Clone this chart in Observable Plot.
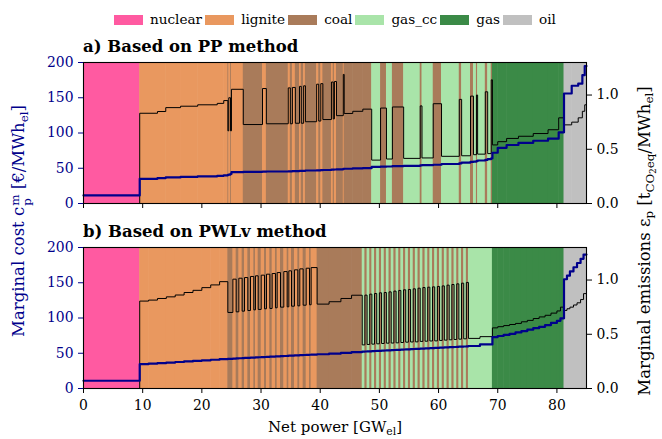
<!DOCTYPE html>
<html>
<head>
<meta charset="utf-8">
<script src="https://cdn.jsdelivr.net/npm/d3@7"></script>
<script src="https://cdn.jsdelivr.net/npm/@observablehq/plot@0.6"></script>
<style>
  body { margin: 0; background: white; }
  #wrap { position: relative; width: 662px; height: 439px; background: white; font-family: "DejaVu Serif", serif; color: #000; overflow: hidden; }
  .t { position: absolute; line-height: 1; white-space: nowrap; }
  .sub { font-size: 72%; vertical-align: -0.3em; line-height: 0; }
  .ss { display: inline-flex; flex-direction: column; font-size: 72%; line-height: 1.0; vertical-align: 5px; margin-left: 1px; }
  .panel { position: absolute; left: 0; }
  #legend { position: absolute; left: 114px; top: 13px; display: flex; align-items: center; font-size: 13.6px; line-height: 1; }
  #legend .sw { width: 29px; height: 10px; display: inline-block; }
  #legend .lb { margin-left: 7px; margin-right: 3px; }
</style>
</head>
<body>
<div id="wrap"></div>
<script>
// ---------------- data ----------------
const fuels = ["nuclear", "lignite", "coal", "gas_cc", "gas", "oil"];
const xTicks = [0, 10, 20, 30, 40, 50, 60, 70, 80];
const costTicks = [0, 50, 100, 150, 200];
const emisTicks = [0, 0.5, 1.0];

// merit order, PP method: [start GW, end GW, fuel, marginal cost €/MWh, marginal emissions t/MWh]
const ppUnits = [
  [0, 9.5, "nuclear", 11.5, 0],
  [9.5, 12.5, "lignite", 35, 0.832],
  [12.5, 13.9, "lignite", 36, 0.848],
  [13.9, 16.4, "lignite", 37, 0.884],
  [16.4, 19.3, "lignite", 37.8, 0.897],
  [19.3, 22.6, "lignite", 38.5, 0.910],
  [22.6, 23.7, "lignite", 39.3, 0.923],
  [23.7, 24.4, "lignite", 40, 0.949],
  [24.4, 24.55, "coal", 40.5, 0.67],
  [24.55, 24.85, "lignite", 41, 0.975],
  [24.85, 25.0, "coal", 42, 0.67],
  [25.0, 27.0, "lignite", 44.5, 1.053],
  [27.0, 30.25, "coal", 45, 0.728],
  [30.25, 30.9, "lignite", 45.2, 1.06],
  [30.9, 34.6, "coal", 45.4, 0.735],
  [34.6, 34.95, "lignite", 45.6, 1.066],
  [34.95, 35.3, "coal", 45.7, 0.735],
  [35.3, 35.8, "lignite", 45.9, 1.07],
  [35.8, 36.5, "coal", 46, 0.74],
  [36.5, 36.8, "lignite", 46.2, 1.08],
  [36.8, 37.2, "coal", 46.3, 0.74],
  [37.2, 37.5, "lignite", 46.4, 1.085],
  [37.5, 39.4, "coal", 46.8, 0.754],
  [39.4, 39.75, "lignite", 47, 1.10],
  [39.75, 40.1, "coal", 47.1, 0.76],
  [40.1, 40.45, "lignite", 47.2, 1.105],
  [40.45, 41.9, "coal", 47.5, 0.774],
  [41.9, 42.2, "lignite", 48, 1.12],
  [42.2, 42.4, "coal", 48.1, 0.78],
  [42.4, 42.75, "lignite", 48.2, 1.125],
  [42.75, 43.9, "coal", 48.5, 0.81],
  [43.9, 44.05, "lignite", 49, 1.19],
  [44.05, 45.5, "coal", 49.3, 0.83],
  [45.5, 47.2, "coal", 49.8, 0.85],
  [47.2, 48.7, "coal", 50.3, 0.87],
  [48.7, 50.2, "gas_cc", 52, 0.40],
  [50.2, 51.2, "coal", 52.3, 0.88],
  [51.2, 52.2, "gas_cc", 52.5, 0.41],
  [52.2, 54.1, "coal", 53, 0.89],
  [54.1, 56.9, "gas_cc", 53.5, 0.416],
  [56.9, 57.2, "coal", 54, 0.90],
  [57.2, 59.1, "gas_cc", 54.5, 0.42],
  [59.1, 60.5, "coal", 55, 0.92],
  [60.5, 63.5, "gas_cc", 56, 0.435],
  [63.5, 63.9, "coal", 57, 0.96],
  [63.9, 65.4, "gas_cc", 58, 0.44],
  [65.4, 65.9, "coal", 59, 0.99],
  [65.9, 66.4, "gas_cc", 59.5, 0.45],
  [66.4, 66.6, "coal", 60, 1.0],
  [66.6, 67.9, "gas_cc", 61, 0.455],
  [67.9, 68.3, "coal", 62, 1.03],
  [68.3, 68.9, "gas_cc", 63, 0.46],
  [68.9, 69.1, "coal", 64, 1.14],
  [69.1, 70, "gas", 72, 0.54],
  [70, 71.5, "gas", 79, 0.57],
  [71.5, 73.5, "gas", 83, 0.60],
  [73.5, 76, "gas", 86, 0.62],
  [76, 78.5, "gas", 89, 0.645],
  [78.5, 80.3, "gas", 92, 0.68],
  [80.3, 81.2, "gas", 101, 0.79],
  [81.2, 82.5, "oil", 156, 0.725],
  [82.5, 83.6, "oil", 167, 0.75],
  [83.6, 84.3, "oil", 170, 0.79],
  [84.3, 84.7, "oil", 182, 0.85],
  [84.7, 85, "oil", 195, 0.91]
];

// merit order, PWLv method
const pwlUnits = [
  [0, 9.5, "nuclear", 11, 0],
  [9.5, 11, "lignite", 34.5, 0.806],
  [11, 12.5, "lignite", 35.3, 0.815],
  [12.5, 14, "lignite", 36, 0.83],
  [14, 15.5, "lignite", 36.8, 0.845],
  [15.5, 17, "lignite", 37.6, 0.862],
  [17, 18.5, "lignite", 38.4, 0.885],
  [18.5, 20, "lignite", 39.2, 0.905],
  [20, 21.5, "lignite", 40, 0.93],
  [21.5, 23, "lignite", 40.8, 0.955],
  [23, 24.39, "lignite", 41.6, 0.985],
  [24.39, 25.24, "coal", 42.0, 0.701],
  [25.24, 25.80, "lignite", 42.3, 1.008],
  [25.80, 26.25, "coal", 42.6, 0.707],
  [26.25, 26.81, "lignite", 42.9, 1.017],
  [26.81, 27.21, "coal", 43.1, 0.713],
  [27.21, 27.77, "lignite", 43.3, 1.023],
  [27.77, 28.22, "coal", 43.5, 0.719],
  [28.22, 28.78, "lignite", 43.7, 1.033],
  [28.78, 29.06, "coal", 43.9, 0.725],
  [29.06, 29.52, "lignite", 44.1, 1.039],
  [29.52, 30.03, "coal", 44.3, 0.729],
  [30.03, 30.59, "lignite", 44.5, 1.045],
  [30.59, 30.92, "coal", 44.7, 0.735],
  [30.92, 31.49, "lignite", 44.9, 1.054],
  [31.49, 31.88, "coal", 45.1, 0.738],
  [31.88, 32.44, "lignite", 45.3, 1.060],
  [32.44, 32.73, "coal", 45.5, 0.744],
  [32.73, 33.29, "lignite", 45.7, 1.069],
  [33.29, 33.85, "coal", 45.9, 0.750],
  [33.85, 34.42, "lignite", 46.1, 1.078],
  [34.42, 34.70, "coal", 46.3, 0.753],
  [34.70, 35.15, "lignite", 46.5, 1.085],
  [35.15, 35.65, "coal", 46.7, 0.759],
  [35.65, 36.22, "lignite", 46.9, 1.094],
  [36.22, 36.55, "coal", 47.1, 0.762],
  [36.55, 37.12, "lignite", 47.3, 1.103],
  [37.12, 37.63, "coal", 47.5, 0.768],
  [37.63, 38.19, "lignite", 47.7, 1.109],
  [38.19, 38.47, "coal", 47.9, 0.772],
  [38.47, 39.48, "lignite", 48.1, 1.115],
  [39.48, 41.5, "coal", 48.6, 0.778],
  [41.5, 43.5, "coal", 49.5, 0.80],
  [43.5, 45.3, "coal", 50.6, 0.83],
  [45.3, 47.1, "coal", 51.6, 0.86],
  [47.10, 47.55, "gas_cc", 52.3, 0.402],
  [47.55, 47.92, "coal", 52.5, 0.861],
  [47.92, 48.37, "gas_cc", 52.6, 0.406],
  [48.37, 48.73, "coal", 52.8, 0.870],
  [48.73, 49.18, "gas_cc", 53.0, 0.409],
  [49.18, 49.55, "coal", 53.2, 0.876],
  [49.55, 50.00, "gas_cc", 53.3, 0.412],
  [50.00, 50.37, "coal", 53.5, 0.882],
  [50.37, 50.82, "gas_cc", 53.7, 0.415],
  [50.82, 51.18, "coal", 53.9, 0.885],
  [51.18, 51.63, "gas_cc", 54.0, 0.418],
  [51.63, 52.00, "coal", 54.2, 0.891],
  [52.00, 52.45, "gas_cc", 54.4, 0.419],
  [52.45, 52.82, "coal", 54.6, 0.898],
  [52.82, 53.27, "gas_cc", 54.7, 0.421],
  [53.27, 53.63, "coal", 54.9, 0.904],
  [53.63, 54.08, "gas_cc", 55.1, 0.424],
  [54.08, 54.45, "coal", 55.3, 0.910],
  [54.45, 54.90, "gas_cc", 55.4, 0.427],
  [54.90, 55.27, "coal", 55.6, 0.913],
  [55.27, 55.72, "gas_cc", 55.8, 0.429],
  [55.72, 56.08, "coal", 56.0, 0.919],
  [56.08, 56.53, "gas_cc", 56.1, 0.430],
  [56.53, 56.90, "coal", 56.3, 0.925],
  [56.90, 57.35, "gas_cc", 56.5, 0.434],
  [57.35, 57.72, "coal", 56.7, 0.931],
  [57.72, 58.17, "gas_cc", 56.8, 0.436],
  [58.17, 58.53, "coal", 57.0, 0.934],
  [58.53, 58.98, "gas_cc", 57.2, 0.438],
  [58.98, 59.35, "coal", 57.4, 0.937],
  [59.35, 59.80, "gas_cc", 57.5, 0.439],
  [59.80, 60.17, "coal", 57.7, 0.941],
  [60.17, 60.62, "gas_cc", 57.9, 0.443],
  [60.62, 60.98, "coal", 58.1, 0.946],
  [60.98, 61.43, "gas_cc", 58.2, 0.446],
  [61.43, 61.80, "coal", 58.4, 0.953],
  [61.80, 62.25, "gas_cc", 58.6, 0.449],
  [62.25, 62.62, "coal", 58.8, 0.959],
  [62.62, 63.07, "gas_cc", 58.9, 0.452],
  [63.07, 63.43, "coal", 59.1, 0.965],
  [63.43, 63.88, "gas_cc", 59.3, 0.455],
  [63.88, 64.25, "coal", 59.5, 0.971],
  [64.25, 64.70, "gas_cc", 59.6, 0.458],
  [64.70, 65.05, "coal", 59.8, 0.978],
  [65.05, 67, "gas_cc", 60.3, 0.462],
  [67, 69.1, "gas_cc", 62.5, 0.478],
  [69.1, 70, "gas", 73, 0.559],
  [70, 71, "gas", 74.5, 0.57],
  [71, 72, "gas", 76, 0.58],
  [72, 73, "gas", 77.5, 0.59],
  [73, 74, "gas", 79.5, 0.60],
  [74, 75, "gas", 81.5, 0.615],
  [75, 76, "gas", 83.5, 0.628],
  [76, 77, "gas", 85.5, 0.645],
  [77, 78, "gas", 87.5, 0.66],
  [78, 79, "gas", 90, 0.675],
  [79, 80, "gas", 93, 0.695],
  [80, 80.6, "gas", 96, 0.715],
  [80.6, 81.2, "gas", 99.5, 0.75],
  [81.2, 81.7, "oil", 155, 0.72],
  [81.7, 82.2, "oil", 160, 0.735],
  [82.2, 82.8, "oil", 166, 0.75],
  [82.8, 83.4, "oil", 172, 0.77],
  [83.4, 84, "oil", 178, 0.79],
  [84, 84.5, "oil", 184, 0.82],
  [84.5, 85, "oil", 190, 0.875]
];

// ---------------- styles ----------------
const fuelColors = ["#ff5aa1", "#e9985f", "#a97b5a", "#a9e4a9", "#3b8a47", "#c0c0c0"];
const blue = "#00008b";
const costMax = 200, emisMax = 1.3;
const k = costMax / emisMax;   // maps emissions onto the shared y scale (right axis)

function panel(units, bottom) {
  const pts = units.flatMap(([x0, x1, f, c, e]) => [{x: x0, c, e}, {x: x1, c, e}]);
  return Plot.plot({
    width: 662,
    height: bottom ? 224 : 185,
    marginLeft: 83, marginRight: 76, marginTop: 32, marginBottom: bottom ? 51 : 12,
    x: {domain: [0, 85]},
    y: {domain: [0, costMax]},
    color: {type: "ordinal", domain: fuels, range: fuelColors},
    style: {fontFamily: "DejaVu Serif", fontSize: "13.9px", background: "white", overflow: "visible"},
    marks: [
      Plot.rect(units, {x1: d => d[0], x2: d => d[1], fill: d => d[2], insetRight: -0.6}),
      Plot.line(pts, {x: "x", y: d => d.e * k, stroke: "black", strokeWidth: 1}),
      Plot.line(pts, {x: "x", y: "c", stroke: blue, strokeWidth: 2.2}),
      Plot.frame({stroke: "black", strokeWidth: 1.1}),
      Plot.axisY(costTicks, {anchor: "left", tickSize: 5, tickPadding: 5, stroke: blue, fill: blue, label: null}),
      Plot.axisY(emisTicks.map(t => t * k), {anchor: "right", tickSize: 5, tickPadding: 5, label: null,
        tickFormat: d => (d / k).toFixed(1)}),
      Plot.axisX(xTicks, {anchor: "bottom", tickSize: 5, tickPadding: 7, label: null,
        tickFormat: bottom ? (d => d) : (() => "")})
    ]
  });
}

const wrap = document.getElementById("wrap");

// legend
const legend = document.createElement("div");
legend.id = "legend";
fuels.forEach((f, i) => {
  const sw = document.createElement("span");
  sw.className = "sw"; sw.style.background = fuelColors[i];
  const lb = document.createElement("span");
  lb.className = "lb"; lb.textContent = f;
  legend.append(sw, lb);
});
wrap.append(legend);

const pa = panel(ppUnits, false);
pa.classList.add("panel"); pa.style.top = "30px";
const pb = panel(pwlUnits, true);
pb.classList.add("panel"); pb.style.top = "215px";
wrap.append(pa, pb);

function addText(html, css) {
  const d = document.createElement("div");
  d.className = "t";
  d.innerHTML = html;
  Object.assign(d.style, css);
  wrap.append(d);
  return d;
}
addText("a) Based on PP method", {left: "83px", top: "39px", fontSize: "16.5px", fontWeight: "bold"});
addText("b) Based on PWLv method", {left: "83px", top: "224px", fontSize: "16.5px", fontWeight: "bold"});
addText('Marginal cost c<span class="ss"><span>m</span><span>p</span></span> [€/MWh<span class="sub">el</span>]',
  {left: "22px", top: "221px", fontSize: "16.5px", color: blue, transform: "translate(-50%,-50%) rotate(-90deg)"});
addText('Marginal emissions ε<span class="sub">p</span> [t<span class="sub">CO<span class="sub">2</span>eq</span>/MWh<span class="sub">el</span>]',
  {left: "645px", top: "241px", fontSize: "16.5px", transform: "translate(-50%,-50%) rotate(-90deg)"});
addText('Net power [GW<span class="sub">el</span>]',
  {left: "335px", top: "420px", fontSize: "15px", transform: "translateX(-50%)"});
</script>
</body>
</html>
